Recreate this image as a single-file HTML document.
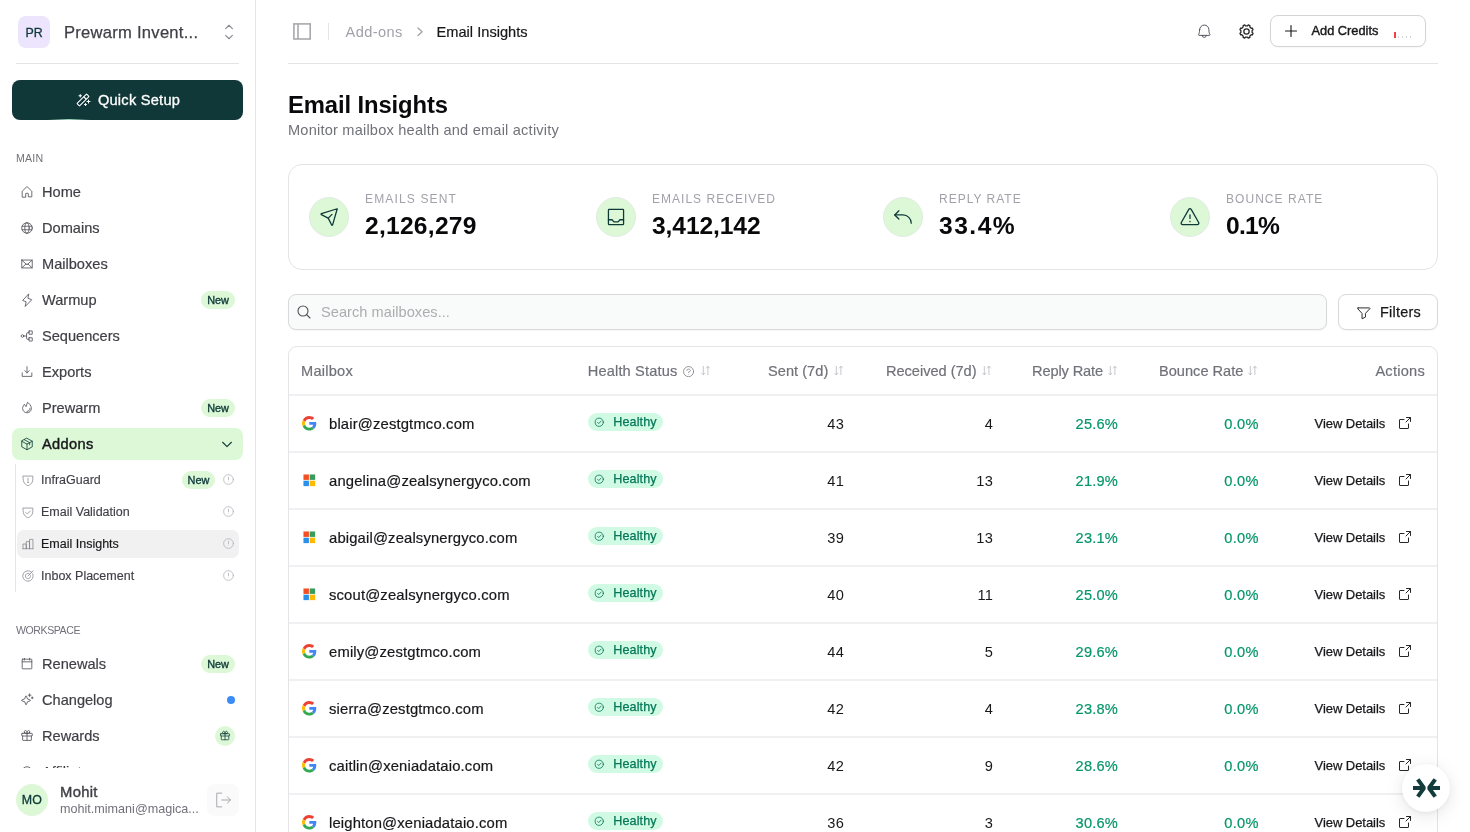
<!DOCTYPE html>
<html lang="en">
<head>
<meta charset="utf-8">
<title>Email Insights</title>
<style>
*{box-sizing:border-box;margin:0;padding:0}
html,body{width:1470px;height:832px;overflow:hidden;background:#fff}
body{font-family:"Liberation Sans",Arial,sans-serif;color:#18181b;position:relative;-webkit-font-smoothing:antialiased}
svg{display:block}
.ic{fill:none;stroke:currentColor;stroke-width:14;stroke-linecap:round;stroke-linejoin:round}
/* ---------- sidebar ---------- */
#sb{position:absolute;left:0;top:0;width:256px;height:832px;border-right:1px solid #e4e4e7;background:#fff;overflow:hidden}
.ws-av{position:absolute;left:18px;top:16px;width:32px;height:32px;border-radius:8px;background:#ede4fd;color:#0f3a3a;font-size:12.4px;font-weight:400;text-align:center;line-height:34px;letter-spacing:0;-webkit-text-stroke:.3px}
.ws-name{-webkit-text-stroke:.25px;position:absolute;left:64px;top:23px;font-size:16.6px;line-height:20px;color:#3f3f46;white-space:nowrap;letter-spacing:.25px}
.ws-chev{position:absolute;left:220px;top:23px;width:18px;height:18px;color:#8a8a93;stroke-width:16}
.sb-div{position:absolute;left:16px;top:63px;width:223px;height:1px;background:#e4e4e7}
.qs{position:absolute;left:12px;top:80px;width:231px;height:40px;border-radius:8px;background:#113838;color:#fff;font-size:14.6px;display:flex;align-items:center;justify-content:center;gap:7px;letter-spacing:.25px;-webkit-text-stroke:.3px;overflow:hidden}
.qs:after{content:"";position:absolute;left:36px;bottom:0;width:42px;height:1.500px;background:linear-gradient(90deg,rgba(190,245,215,0),rgba(190,245,215,.85),rgba(190,245,215,0))}
.qs svg{width:16px;height:16px;stroke-width:17}
.sec{position:absolute;left:16px;font-size:10.6px;color:#71717a;letter-spacing:.2px;line-height:12px}
.nav{position:absolute;left:12px;width:231px;height:32px;border-radius:8px;display:flex;align-items:center;color:#3f3f46;font-size:14.6px;letter-spacing:0;-webkit-text-stroke:.2px}
.nav .i{width:14px;height:14px;margin-left:8px;margin-right:8px;color:#4e4e58;flex:none;stroke-width:15}
.nav.act{background:#dcf8d6;color:#18181b;font-weight:400;-webkit-text-stroke:.42px;letter-spacing:.38px}
.nav.act .i{color:#0f3a3a}
.badge{margin-left:auto;margin-right:8px;height:18px;border-radius:9px;background:#dcf8d6;color:#0f3a3a;font-size:10.9px;line-height:18px;padding:0 6px;letter-spacing:0;-webkit-text-stroke:.35px}
.sub{position:absolute;left:17px;width:222px;height:28px;border-radius:7px;display:flex;align-items:center;color:#3f3f46;font-size:12.5px;letter-spacing:0;line-height:14px;padding-bottom:1px;-webkit-text-stroke:.15px}
.sub .i{width:14px;height:14px;margin-left:4px;margin-right:6px;color:#7e7e87;flex:none;stroke-width:13}
.sub .info{width:13px;height:13px;margin-left:auto;margin-right:4px;color:#b0b0b8;flex:none;stroke-width:15}
.sub .badge{margin-right:0;padding:0 5.6px}
.sub .badge + .info{margin-left:7px}
.sub.act{background:#f1f1f2;color:#18181b}
.subline{position:absolute;left:15px;top:464px;width:1px;height:128px;background:#e4e4e7}
.foot{position:absolute;left:0;bottom:0;width:255px;height:64px;background:#fff}
.me-av{position:absolute;left:16px;top:16px;width:32px;height:32px;border-radius:50%;background:#dcf8d6;color:#0f3a3a;font-size:12.4px;text-align:center;line-height:33px;letter-spacing:.2px;-webkit-text-stroke:.3px}
.me-name{position:absolute;left:60px;top:15px;font-size:14.8px;line-height:18px;color:#3f3f46;letter-spacing:.3px;-webkit-text-stroke:.4px}
.me-mail{position:absolute;left:60px;top:33px;font-size:12.6px;line-height:16px;color:#71717a;letter-spacing:0;white-space:nowrap}
.lo{position:absolute;left:207px;top:16px;width:32px;height:32px;border-radius:8px;background:#fafafa;color:#a1a1aa}
.lo svg{width:20px;height:20px;margin:6px;stroke-width:12}

/* ---------- main ---------- */
#main{position:absolute;left:256px;top:0;width:1214px;height:832px;overflow:hidden}
.abs{position:absolute}
.tb-line{position:absolute;left:32px;top:63px;width:1150px;height:1px;background:#e4e4e7}
.tg{position:absolute;left:37px;top:23px;width:18px;height:17px;border:1.8px solid #a5a5ae;border-radius:1px}
.tg:after{content:"";position:absolute;left:3.4px;top:0;bottom:0;width:1.8px;background:#a5a5ae}
.tsep{position:absolute;left:72px;top:23px;width:1px;height:17px;background:#e4e4e7}
.bc{position:absolute;top:23px;font-size:14.6px;line-height:18px;white-space:nowrap;letter-spacing:.25px}
.addc{position:absolute;left:1014px;top:15px;width:156px;height:32px;border:1px solid #d4d4d8;border-radius:8px;background:#fff;box-shadow:0 1px 2px rgba(0,0,0,.04)}
h1{position:absolute;left:32px;top:90px;font-size:23.8px;line-height:30px;font-weight:700;color:#09090b;letter-spacing:-.1px;white-space:nowrap}
.subt{position:absolute;left:32px;top:121px;font-size:14.6px;line-height:18px;color:#71717a;white-space:nowrap;letter-spacing:.2px}
.card{position:absolute;left:32px;top:164px;width:1150px;height:106px;border:1px solid #e4e4e7;border-radius:14px;background:#fff}
.stat{position:absolute;top:0;height:104px}
.stat .circ{position:absolute;left:0;top:32px;width:40px;height:40px;border-radius:50%;background:#dcf8d6;border:1px solid #e2ece2;color:#0f3a3a}
.stat .circ svg{width:22px;height:22px;margin:8px;stroke-width:15}
.stat .lab{position:absolute;left:56px;top:27px;font-size:12px;line-height:14px;color:#a1a1aa;letter-spacing:1.15px;white-space:nowrap}
.stat .num{position:absolute;left:56px;top:46px;font-size:24.6px;line-height:30px;font-weight:700;color:#09090b;white-space:nowrap}
.search{position:absolute;left:32px;top:294px;width:1039px;height:36px;border:1px solid #d9d9dd;border-radius:8px;background:#f9fafa;box-shadow:0 1px 2px rgba(0,0,0,.04)}
.search svg{position:absolute;left:6.500px;top:8.500px;width:16px;height:16px;color:#52525b;stroke-width:18}
.search span{position:absolute;left:32px;top:8px;font-size:14.6px;line-height:18px;color:#adadb1;letter-spacing:.04px;white-space:nowrap}
.filt{position:absolute;left:1082px;top:294px;width:100px;height:36px;border:1px solid #d9d9dd;border-radius:8px;background:#fff;box-shadow:0 1px 2px rgba(0,0,0,.04)}
.filt svg{position:absolute;left:17px;top:9.500px;width:15.500px;height:15.500px;color:#27272a;stroke-width:16}
.filt span{position:absolute;left:41px;top:8px;font-size:14.4px;line-height:18px;color:#18181b;letter-spacing:.25px;-webkit-text-stroke:.25px}
.tbl{position:absolute;left:32px;top:346px;width:1150px;height:520px;border:1px solid #e4e4e7;border-radius:9px;background:#fff;overflow:hidden}
.th{position:absolute;top:15px;font-size:14.6px;line-height:18px;color:#71717a;white-space:nowrap;letter-spacing:.25px;-webkit-text-stroke:.2px}
.srt{position:absolute;top:19.300px;width:9.200px;height:9.200px;color:#b0b0b8;stroke-width:15}
.row{position:absolute;left:0;width:1148px;height:57px;border-top:1px solid transparent}
.row:before{content:"";position:absolute;left:0;right:0;top:-1px;height:2px;background:#f0f0f2}
.row .em{position:absolute;left:40px;top:20px;font-size:14.8px;line-height:18px;color:#18181b;white-space:nowrap;letter-spacing:.16px;-webkit-text-stroke:.2px}
.row .pv{position:absolute;left:13px;top:21px;width:14.600px;height:14.600px}
.row .hl{position:absolute;left:298.800px;top:18.300px;width:75.600px;height:18px;border-radius:9px;background:#d1fae5;color:#047857;font-size:12.6px;line-height:18px;letter-spacing:.1px;-webkit-text-stroke:.25px}
.row .hl svg{position:absolute;left:6.500px;top:3.800px;width:10.500px;height:10.500px}
.row .hl span{position:absolute;left:25.500px;top:0}
.row .n{position:absolute;top:20px;font-size:14.6px;line-height:18px;text-align:right;white-space:nowrap;color:#18181b;letter-spacing:.2px}
.row .g{color:#059669;-webkit-text-stroke:.2px}
.row .vd{position:absolute;left:1025.500px;top:20px;font-size:13px;line-height:18px;color:#18181b;white-space:nowrap;letter-spacing:-.05px;-webkit-text-stroke:.25px}
.row .ex{position:absolute;left:1108px;top:20.400px;width:16px;height:16px;color:#27272a;stroke-width:16}
.fab{position:absolute;left:1146px;top:764px;width:48px;height:48px;border-radius:50%;background:#fff;box-shadow:0 4px 18px rgba(0,0,0,.10),0 1px 4px rgba(0,0,0,.05);color:#143c3c}
</style>
</head>
<body>
<aside id="sb">
  <div class="ws-av">PR</div>
  <div class="ws-name">Prewarm Invent...</div>
  <svg class="ws-chev ic" viewBox="0 0 256 256"><path d="M80 176l48 48 48-48M80 80l48-48 48 48"/></svg>
  <div class="sb-div"></div>
  <div class="qs"><svg class="ic" viewBox="0 0 256 256"><path d="M216 128v48M192 152h48M84 40v40M64 60h40M168 184v32M152 200h32"/><rect x="100" y="20" width="56" height="216" rx="8" transform="rotate(45 128 128)"/><path d="M144 80l32 32"/></svg><span>Quick Setup</span></div>

  <div class="sec" style="top:152px">MAIN</div>
  <div class="nav" style="top:176px"><svg class="i ic" viewBox="0 0 256 256"><path d="M40 216V115.5a8 8 0 0 1 2.600-5.900l80-75.500a8 8 0 0 1 10.800 0l80 75.500a8 8 0 0 1 2.600 5.900V216h-64v-56a8 8 0 0 0-8-8h-32a8 8 0 0 0-8 8v56z"/></svg>Home</div>
  <div class="nav" style="top:212px"><svg class="i ic" viewBox="0 0 256 256"><circle cx="128" cy="128" r="96"/><ellipse cx="128" cy="128" rx="40" ry="96"/><path d="M38 96h180M38 160h180"/></svg>Domains</div>
  <div class="nav" style="top:248px"><svg class="i ic" viewBox="0 0 256 256"><rect x="32" y="56" width="192" height="144" rx="4"/><path d="M224 56l-96 88-96-88M110 128l-76 70M222 198l-76-70"/></svg>Mailboxes</div>
  <div class="nav" style="top:284px"><svg class="i ic" viewBox="0 0 256 256"><path d="M96 240l16-80-64-24L160 16l-16 80 64 24z"/></svg>Warmup<span class="badge">New</span></div>
  <div class="nav" style="top:320px"><svg class="i ic" viewBox="0 0 256 256"><circle cx="44" cy="128" r="24"/><rect x="164" y="36" width="60" height="60" rx="2"/><rect x="164" y="160" width="60" height="60" rx="2"/><path d="M68 128h52M164 66h-20a24 24 0 0 0-24 24v76a24 24 0 0 0 24 24h20"/></svg>Sequencers</div>
  <div class="nav" style="top:356px"><svg class="i ic" viewBox="0 0 256 256"><path d="M128 144V32M216 144v64H40v-64M88 104l40 40 40-40"/></svg>Exports</div>
  <div class="nav" style="top:392px"><svg class="i ic" viewBox="0 0 256 256"><path d="M112 96l26-72c20 12 70 56 70 112a80 80 0 0 1-160 0c0-30 14-54 28-70z"/><path d="M184 136c0 30-26 50-56 56"/></svg>Prewarm<span class="badge">New</span></div>
  <div class="nav act" style="top:428px"><svg class="i ic" viewBox="0 0 256 256"><path d="M128 24l96 52v104l-96 52-96-52V76z"/><path d="M32 78l96 52 96-52M128 130v102M80 50l96 52v40"/></svg>Addons<svg class="ic" style="margin-left:auto;margin-right:9px;width:14px;height:14px;color:#0f3a3a;stroke-width:20" viewBox="0 0 256 256"><path d="M208 96l-80 80-80-80"/></svg></div>

  <div class="subline"></div>
  <div class="sub" style="top:466px"><svg class="i ic" viewBox="0 0 256 256"><path d="M40 56h176v58c0 84-70 112-88 118-18-6-88-34-88-118z"/><path d="M128 96v40"/><circle cx="128" cy="168" r="6" fill="currentColor"/></svg>InfraGuard<span class="badge">New</span><svg class="info ic" viewBox="0 0 256 256"><circle cx="128" cy="128" r="96"/><path d="M128 80v56"/><circle cx="128" cy="172" r="7" fill="currentColor" stroke="none"/></svg></div>
  <div class="sub" style="top:498px"><svg class="i ic" viewBox="0 0 256 256"><path d="M40 56h176v58c0 84-70 112-88 118-18-6-88-34-88-118z"/><path d="M88 136l28 28 56-56"/></svg>Email Validation<svg class="info ic" viewBox="0 0 256 256"><circle cx="128" cy="128" r="96"/><path d="M128 80v56"/><circle cx="128" cy="172" r="7" fill="currentColor" stroke="none"/></svg></div>
  <div class="sub act" style="top:530px"><svg class="i ic" viewBox="0 0 256 256"><path d="M36 214V128h60v86M96 214V84h60v130M156 214V44h62v170M36 214h182"/></svg>Email Insights<svg class="info ic" viewBox="0 0 256 256"><circle cx="128" cy="128" r="96"/><path d="M128 80v56"/><circle cx="128" cy="172" r="7" fill="currentColor" stroke="none"/></svg></div>
  <div class="sub" style="top:562px"><svg class="i ic" viewBox="0 0 256 256"><path d="M128 128l96-96M196 60a96 96 0 1 0 20 30M162 94a48 48 0 1 0 14 28"/></svg>Inbox Placement<svg class="info ic" viewBox="0 0 256 256"><circle cx="128" cy="128" r="96"/><path d="M128 80v56"/><circle cx="128" cy="172" r="7" fill="currentColor" stroke="none"/></svg></div>

  <div class="sec" style="top:624px;letter-spacing:-.45px">WORKSPACE</div>
  <div class="nav" style="top:648px"><svg class="i ic" viewBox="0 0 256 256"><rect x="40" y="40" width="176" height="176" rx="8"/><path d="M176 24v32M80 24v32M40 88h176"/></svg>Renewals<span class="badge">New</span></div>
  <div class="nav" style="top:684px"><svg class="i ic" viewBox="0 0 256 256"><path d="M84 160l-50-18a8 8 0 0 1 0-15l50-19 19-50a8 8 0 0 1 15 0l18 50 50 19a8 8 0 0 1 0 15l-50 18-18 50a8 8 0 0 1-15 0z"/><path d="M176 16v48M200 40h-48M224 72v32M240 88h-32"/></svg>Changelog<span style="margin-left:auto;margin-right:8px;width:8px;height:8px;border-radius:50%;background:#3b8cf6"></span></div>
  <div class="nav" style="top:720px"><svg class="i ic" viewBox="0 0 256 256"><rect x="32" y="80" width="192" height="48" rx="8"/><path d="M208 128v72a8 8 0 0 1-8 8H56a8 8 0 0 1-8-8v-72M128 80v128M173 69c-11 11-45 11-45 11s0-34 11-45a24 24 0 0 1 34 34zM83 69c11 11 45 11 45 11s0-34-11-45a24 24 0 0 0-34 34z"/></svg>Rewards<span style="margin-left:auto;margin-right:8px;width:20px;height:20px;border-radius:50%;background:#dcf8d6;color:#0f3a3a;display:flex;align-items:center;justify-content:center"><svg class="ic" style="width:12px;height:12px;stroke-width:16;margin:-1px 1px 0 0" viewBox="0 0 256 256"><rect x="32" y="80" width="192" height="48" rx="8"/><path d="M208 128v72a8 8 0 0 1-8 8H56a8 8 0 0 1-8-8v-72M128 80v128M173 69c-11 11-45 11-45 11s0-34 11-45a24 24 0 0 1 34 34zM83 69c11 11 45 11 45 11s0-34-11-45a24 24 0 0 0-34 34z"/></svg></span></div>
  <div class="nav" style="top:756px"><svg class="i ic" viewBox="0 0 256 256"><circle cx="128" cy="128" r="96"/></svg>Affiliates</div>

  <div class="foot">
    <div class="me-av">MO</div>
    <div class="me-name">Mohit</div>
    <div class="me-mail">mohit.mimani@magica...</div>
    <div class="lo"><svg class="ic" viewBox="0 0 256 256"><path d="M112 40H48v176h64M112 128h112M184 88l40 40-40 40"/></svg></div>
  </div>
</aside>
<main id="main">
  <svg class="abs" style="left:36px;top:22px;width:20px;height:19px" viewBox="0 0 20 19" fill="none" stroke="#a8a8ae" stroke-width="1.600"><rect x="1.900" y="1.900" width="16.300" height="15.100"/><path d="M6 1.900V17"/></svg><div class="tsep"></div>
  <div class="bc" style="left:89.500px;color:#a1a1aa;letter-spacing:.4px">Add-ons</div>
  <svg class="abs" style="left:161.250px;top:26.850px;width:8px;height:11px" viewBox="0 0 8 11" fill="none" stroke="#a1a1aa" stroke-width="1.300" stroke-linecap="round" stroke-linejoin="round"><path d="M1 1L5.100 4.800L1 8.600"/></svg>
  <div class="bc" style="left:180.500px;color:#18181b;letter-spacing:.02px;-webkit-text-stroke:.2px">Email Insights</div>
  <svg class="abs ic" style="left:940px;top:23px;width:16.500px;height:16.500px;color:#52525b;stroke-width:15" viewBox="0 0 256 256"><path d="M96 192a32 32 0 0 0 64 0M56 104a72 72 0 0 1 144 0c0 36 8 64 16 76a8 8 0 0 1-7 12H47a8 8 0 0 1-7-12c8-12 16-40 16-76z"/></svg>
  <svg class="abs ic" style="left:981.500px;top:23px;width:17px;height:17px;color:#27272a;stroke-width:19;stroke-linejoin:round" viewBox="0 0 256 256"><circle cx="128" cy="128" r="40"/><path d="M212.6 143.5 L226.6 154.1 L216.2 179.2 L198.7 176.9 L176.9 198.7 L179.2 216.2 L154.1 226.6 L143.5 212.6 L112.5 212.6 L101.9 226.6 L76.8 216.2 L79.1 198.7 L57.3 176.9 L39.8 179.2 L29.4 154.1 L43.4 143.5 L43.4 112.5 L29.4 101.9 L39.8 76.8 L57.3 79.1 L79.1 57.3 L76.8 39.8 L101.9 29.4 L112.5 43.4 L143.5 43.4 L154.1 29.4 L179.2 39.8 L176.9 57.3 L198.7 79.1 L216.2 76.8 L226.6 101.9 L212.6 112.5Z"/></svg>
  <div class="addc"><svg class="abs ic" style="left:12px;top:7px;width:16px;height:16px;color:#18181b;stroke-width:18" viewBox="0 0 256 256"><path d="M40 128h176M128 40v176"/></svg><span class="abs" style="left:40.500px;top:6px;font-size:12.8px;line-height:18px;color:#18181b;white-space:nowrap;letter-spacing:0;font-weight:400;-webkit-text-stroke:.4px">Add Credits</span><span class="abs" style="left:123px;top:16px;width:2px;height:6px;background:#ef4444"></span><span class="abs" style="left:127px;top:20px;width:1px;height:2px;background:#d4d4d8;box-shadow:4px 0 0 #d4d4d8,8px 0 0 #d4d4d8,12px 0 0 #d4d4d8"></span></div>
  <div class="tb-line"></div>
  <h1>Email Insights</h1>
  <div class="subt">Monitor mailbox health and email activity</div>
  <div class="card">
    <div class="stat" style="left:20px"><div class="circ"><svg class="ic" viewBox="0 0 256 256"><path d="M224 32L40 90a6 6 0 0 0-1 11l80 40 40 80a6 6 0 0 0 11-1z"/><path d="M119 141l44-44"/></svg></div><div class="lab">EMAILS SENT</div><div class="num" style="letter-spacing:.25px">2,126,279</div></div>
    <div class="stat" style="left:307px"><div class="circ"><svg class="ic" viewBox="0 0 256 256"><rect x="40" y="40" width="176" height="176" rx="8"/><path d="M40 160h42l22 24h48l22-24h42"/></svg></div><div class="lab" style="letter-spacing:1.02px">EMAILS RECEIVED</div><div class="num" style="letter-spacing:-.1px">3,412,142</div></div>
    <div class="stat" style="left:594px"><div class="circ"><svg class="ic" viewBox="0 0 256 256"><path d="M80 152l-48-48 48-48"/><path d="M224 200a96 96 0 0 0-96-96H32"/></svg></div><div class="lab" style="letter-spacing:1px">REPLY RATE</div><div class="num" style="letter-spacing:1.5px">33.4%</div></div>
    <div class="stat" style="left:881px"><div class="circ"><svg class="ic" viewBox="0 0 256 256"><path d="M142 40l87 152a16 16 0 0 1-14 24H41a16 16 0 0 1-14-24l87-152a16 16 0 0 1 28 0z"/><path d="M128 104v40"/><circle cx="128" cy="180" r="9" fill="currentColor" stroke="none"/></svg></div><div class="lab" style="letter-spacing:1.05px">BOUNCE RATE</div><div class="num" style="letter-spacing:-.7px">0.1%</div></div>
  </div>
  <div class="search"><svg class="ic" viewBox="0 0 256 256"><circle cx="112" cy="112" r="80"/><path d="M168 168l56 56"/></svg><span>Search mailboxes...</span></div>
  <div class="filt"><svg class="ic" viewBox="0 0 256 256"><path d="M34 48h188a8 8 0 0 1 6 13l-72 78v61l-56 28v-89L28 61a8 8 0 0 1 6-13z"/></svg><span>Filters</span></div>
  <div class="tbl">
    <div class="th" style="left:12px">Mailbox</div>
    <div class="th" style="left:298.700px;letter-spacing:.17px">Health Status</div>
    <svg class="abs ic" style="left:393.900px;top:18.900px;width:11.200px;height:11.200px;color:#85858e;stroke-width:16" viewBox="22 22 212 212"><circle cx="128" cy="128" r="96"/><path d="M128 144v-8c18 0 32-12 32-28s-14-28-32-28-32 12-32 28"/><circle cx="128" cy="180" r="8" fill="currentColor" stroke="none"/></svg>
    <svg class="srt ic" style="left:411.8px" viewBox="32 32 192 192"><path d="M80 40v176M46 182l34 34 34-34M176 216V40M142 74l34-34 34 34"/></svg>
    <div class="th" style="left:479px;letter-spacing:.03px">Sent (7d)</div><svg class="srt ic" style="left:545.1px" viewBox="32 32 192 192"><path d="M80 40v176M46 182l34 34 34-34M176 216V40M142 74l34-34 34 34"/></svg>
    <div class="th" style="left:597px;letter-spacing:-.03px">Received (7d)</div><svg class="srt ic" style="left:693.4px" viewBox="32 32 192 192"><path d="M80 40v176M46 182l34 34 34-34M176 216V40M142 74l34-34 34 34"/></svg>
    <div class="th" style="left:743px;letter-spacing:-.12px">Reply Rate</div><svg class="srt ic" style="left:818.7px" viewBox="32 32 192 192"><path d="M80 40v176M46 182l34 34 34-34M176 216V40M142 74l34-34 34 34"/></svg>
    <div class="th" style="left:870px;letter-spacing:0">Bounce Rate</div><svg class="srt ic" style="left:959.4px" viewBox="32 32 192 192"><path d="M80 40v176M46 182l34 34 34-34M176 216V40M142 74l34-34 34 34"/></svg>
    <div class="th" style="right:12px">Actions</div>
    <div class="row" style="top:47px"><svg class="pv" viewBox="0 0 48 48"><path fill="#EA4335" d="M24 9.500c3.540 0 6.710 1.220 9.210 3.600l6.850-6.850C35.900 2.380 30.470 0 24 0 14.620 0 6.510 5.380 2.560 13.220l7.980 6.190C12.430 13.720 17.740 9.500 24 9.500z"/><path fill="#4285F4" d="M46.980 24.550c0-1.570-.150-3.090-.380-4.550H24v9.020h12.940c-.580 2.960-2.260 5.480-4.780 7.180l7.730 6c4.510-4.180 7.090-10.360 7.090-17.650z"/><path fill="#FBBC05" d="M10.530 28.590c-.480-1.450-.760-2.990-.760-4.590s.270-3.140.760-4.590l-7.980-6.190C.920 16.460 0 20.120 0 24c0 3.880.920 7.540 2.560 10.780l7.970-6.190z"/><path fill="#34A853" d="M24 48c6.480 0 11.930-2.130 15.890-5.810l-7.730-6c-2.150 1.450-4.920 2.300-8.160 2.300-6.260 0-11.570-4.220-13.470-9.910l-7.980 6.190C6.510 42.620 14.620 48 24 48z"/></svg><div class="em">blair@zestgtmco.com</div><div class="hl"><svg class="ic" style="stroke-width:20" viewBox="0 0 256 256"><circle cx="128" cy="128" r="100"/><path d="M88 132l28 28 56-60"/></svg><span>Healthy</span></div><div class="n" style="right:593px">43</div><div class="n" style="right:444px">4</div><div class="n g" style="right:319px">25.6%</div><div class="n g" style="right:178px;letter-spacing:.4px">0.0%</div><div class="vd">View Details</div><svg class="ex ic" viewBox="0 0 256 256"><path d="M216 104V40h-64M144 112l72-72M184 144v64a8 8 0 0 1-8 8H48a8 8 0 0 1-8-8V80a8 8 0 0 1 8-8h64"/></svg></div>
<div class="row" style="top:104px"><svg class="pv" viewBox="0 0 15 15"><rect x="1.500" y="1.500" width="5.600" height="5.600" fill="#f25022"/><rect x="7.900" y="1.500" width="5.600" height="5.600" fill="#3a9b5c"/><rect x="1.500" y="7.900" width="5.600" height="5.600" fill="#2a8fe8"/><rect x="7.900" y="7.900" width="5.600" height="5.600" fill="#ffb900"/></svg><div class="em">angelina@zealsynergyco.com</div><div class="hl"><svg class="ic" style="stroke-width:20" viewBox="0 0 256 256"><circle cx="128" cy="128" r="100"/><path d="M88 132l28 28 56-60"/></svg><span>Healthy</span></div><div class="n" style="right:593px">41</div><div class="n" style="right:444px">13</div><div class="n g" style="right:319px">21.9%</div><div class="n g" style="right:178px;letter-spacing:.4px">0.0%</div><div class="vd">View Details</div><svg class="ex ic" viewBox="0 0 256 256"><path d="M216 104V40h-64M144 112l72-72M184 144v64a8 8 0 0 1-8 8H48a8 8 0 0 1-8-8V80a8 8 0 0 1 8-8h64"/></svg></div>
<div class="row" style="top:161px"><svg class="pv" viewBox="0 0 15 15"><rect x="1.500" y="1.500" width="5.600" height="5.600" fill="#f25022"/><rect x="7.900" y="1.500" width="5.600" height="5.600" fill="#3a9b5c"/><rect x="1.500" y="7.900" width="5.600" height="5.600" fill="#2a8fe8"/><rect x="7.900" y="7.900" width="5.600" height="5.600" fill="#ffb900"/></svg><div class="em">abigail@zealsynergyco.com</div><div class="hl"><svg class="ic" style="stroke-width:20" viewBox="0 0 256 256"><circle cx="128" cy="128" r="100"/><path d="M88 132l28 28 56-60"/></svg><span>Healthy</span></div><div class="n" style="right:593px">39</div><div class="n" style="right:444px">13</div><div class="n g" style="right:319px">23.1%</div><div class="n g" style="right:178px;letter-spacing:.4px">0.0%</div><div class="vd">View Details</div><svg class="ex ic" viewBox="0 0 256 256"><path d="M216 104V40h-64M144 112l72-72M184 144v64a8 8 0 0 1-8 8H48a8 8 0 0 1-8-8V80a8 8 0 0 1 8-8h64"/></svg></div>
<div class="row" style="top:218px"><svg class="pv" viewBox="0 0 15 15"><rect x="1.500" y="1.500" width="5.600" height="5.600" fill="#f25022"/><rect x="7.900" y="1.500" width="5.600" height="5.600" fill="#3a9b5c"/><rect x="1.500" y="7.900" width="5.600" height="5.600" fill="#2a8fe8"/><rect x="7.900" y="7.900" width="5.600" height="5.600" fill="#ffb900"/></svg><div class="em">scout@zealsynergyco.com</div><div class="hl"><svg class="ic" style="stroke-width:20" viewBox="0 0 256 256"><circle cx="128" cy="128" r="100"/><path d="M88 132l28 28 56-60"/></svg><span>Healthy</span></div><div class="n" style="right:593px">40</div><div class="n" style="right:444px">11</div><div class="n g" style="right:319px">25.0%</div><div class="n g" style="right:178px;letter-spacing:.4px">0.0%</div><div class="vd">View Details</div><svg class="ex ic" viewBox="0 0 256 256"><path d="M216 104V40h-64M144 112l72-72M184 144v64a8 8 0 0 1-8 8H48a8 8 0 0 1-8-8V80a8 8 0 0 1 8-8h64"/></svg></div>
<div class="row" style="top:275px"><svg class="pv" viewBox="0 0 48 48"><path fill="#EA4335" d="M24 9.500c3.540 0 6.710 1.220 9.210 3.600l6.850-6.850C35.900 2.380 30.470 0 24 0 14.620 0 6.510 5.380 2.560 13.220l7.980 6.190C12.430 13.720 17.740 9.500 24 9.500z"/><path fill="#4285F4" d="M46.980 24.550c0-1.570-.150-3.090-.380-4.550H24v9.020h12.940c-.580 2.960-2.260 5.480-4.780 7.180l7.730 6c4.510-4.180 7.090-10.360 7.090-17.650z"/><path fill="#FBBC05" d="M10.530 28.590c-.480-1.450-.760-2.990-.760-4.590s.270-3.140.760-4.590l-7.980-6.190C.920 16.460 0 20.120 0 24c0 3.880.920 7.540 2.560 10.780l7.970-6.190z"/><path fill="#34A853" d="M24 48c6.480 0 11.930-2.130 15.890-5.810l-7.730-6c-2.150 1.450-4.920 2.300-8.160 2.300-6.260 0-11.570-4.220-13.470-9.910l-7.980 6.190C6.510 42.620 14.620 48 24 48z"/></svg><div class="em">emily@zestgtmco.com</div><div class="hl"><svg class="ic" style="stroke-width:20" viewBox="0 0 256 256"><circle cx="128" cy="128" r="100"/><path d="M88 132l28 28 56-60"/></svg><span>Healthy</span></div><div class="n" style="right:593px">44</div><div class="n" style="right:444px">5</div><div class="n g" style="right:319px">29.6%</div><div class="n g" style="right:178px;letter-spacing:.4px">0.0%</div><div class="vd">View Details</div><svg class="ex ic" viewBox="0 0 256 256"><path d="M216 104V40h-64M144 112l72-72M184 144v64a8 8 0 0 1-8 8H48a8 8 0 0 1-8-8V80a8 8 0 0 1 8-8h64"/></svg></div>
<div class="row" style="top:332px"><svg class="pv" viewBox="0 0 48 48"><path fill="#EA4335" d="M24 9.500c3.540 0 6.710 1.220 9.210 3.600l6.850-6.850C35.900 2.380 30.470 0 24 0 14.620 0 6.510 5.380 2.560 13.220l7.980 6.190C12.430 13.720 17.740 9.500 24 9.500z"/><path fill="#4285F4" d="M46.980 24.550c0-1.570-.150-3.090-.380-4.550H24v9.020h12.940c-.580 2.960-2.260 5.480-4.780 7.180l7.730 6c4.510-4.180 7.090-10.360 7.090-17.650z"/><path fill="#FBBC05" d="M10.530 28.590c-.480-1.450-.760-2.990-.760-4.590s.270-3.140.760-4.590l-7.980-6.190C.920 16.460 0 20.120 0 24c0 3.880.920 7.540 2.560 10.780l7.970-6.190z"/><path fill="#34A853" d="M24 48c6.480 0 11.930-2.130 15.890-5.810l-7.730-6c-2.150 1.450-4.920 2.300-8.160 2.300-6.260 0-11.570-4.220-13.470-9.910l-7.980 6.190C6.510 42.620 14.620 48 24 48z"/></svg><div class="em">sierra@zestgtmco.com</div><div class="hl"><svg class="ic" style="stroke-width:20" viewBox="0 0 256 256"><circle cx="128" cy="128" r="100"/><path d="M88 132l28 28 56-60"/></svg><span>Healthy</span></div><div class="n" style="right:593px">42</div><div class="n" style="right:444px">4</div><div class="n g" style="right:319px">23.8%</div><div class="n g" style="right:178px;letter-spacing:.4px">0.0%</div><div class="vd">View Details</div><svg class="ex ic" viewBox="0 0 256 256"><path d="M216 104V40h-64M144 112l72-72M184 144v64a8 8 0 0 1-8 8H48a8 8 0 0 1-8-8V80a8 8 0 0 1 8-8h64"/></svg></div>
<div class="row" style="top:389px"><svg class="pv" viewBox="0 0 48 48"><path fill="#EA4335" d="M24 9.500c3.540 0 6.710 1.220 9.210 3.600l6.850-6.850C35.900 2.380 30.470 0 24 0 14.620 0 6.510 5.380 2.560 13.220l7.980 6.190C12.430 13.720 17.740 9.500 24 9.500z"/><path fill="#4285F4" d="M46.980 24.550c0-1.570-.150-3.090-.380-4.550H24v9.020h12.940c-.580 2.960-2.260 5.480-4.780 7.180l7.730 6c4.510-4.180 7.090-10.360 7.090-17.650z"/><path fill="#FBBC05" d="M10.530 28.590c-.480-1.450-.760-2.990-.760-4.590s.270-3.140.760-4.590l-7.980-6.190C.920 16.460 0 20.120 0 24c0 3.880.920 7.540 2.560 10.780l7.970-6.190z"/><path fill="#34A853" d="M24 48c6.480 0 11.930-2.130 15.890-5.810l-7.730-6c-2.150 1.450-4.920 2.300-8.160 2.300-6.260 0-11.570-4.220-13.470-9.910l-7.980 6.190C6.510 42.620 14.620 48 24 48z"/></svg><div class="em">caitlin@xeniadataio.com</div><div class="hl"><svg class="ic" style="stroke-width:20" viewBox="0 0 256 256"><circle cx="128" cy="128" r="100"/><path d="M88 132l28 28 56-60"/></svg><span>Healthy</span></div><div class="n" style="right:593px">42</div><div class="n" style="right:444px">9</div><div class="n g" style="right:319px">28.6%</div><div class="n g" style="right:178px;letter-spacing:.4px">0.0%</div><div class="vd">View Details</div><svg class="ex ic" viewBox="0 0 256 256"><path d="M216 104V40h-64M144 112l72-72M184 144v64a8 8 0 0 1-8 8H48a8 8 0 0 1-8-8V80a8 8 0 0 1 8-8h64"/></svg></div>
<div class="row" style="top:446px"><svg class="pv" viewBox="0 0 48 48"><path fill="#EA4335" d="M24 9.500c3.540 0 6.710 1.220 9.210 3.600l6.850-6.850C35.900 2.380 30.470 0 24 0 14.620 0 6.510 5.380 2.560 13.220l7.980 6.190C12.430 13.720 17.740 9.500 24 9.500z"/><path fill="#4285F4" d="M46.980 24.550c0-1.570-.150-3.090-.380-4.550H24v9.020h12.940c-.580 2.960-2.260 5.480-4.780 7.180l7.730 6c4.510-4.180 7.090-10.360 7.090-17.650z"/><path fill="#FBBC05" d="M10.530 28.590c-.480-1.450-.760-2.990-.760-4.590s.270-3.140.760-4.590l-7.980-6.190C.920 16.460 0 20.120 0 24c0 3.880.920 7.540 2.560 10.780l7.970-6.190z"/><path fill="#34A853" d="M24 48c6.480 0 11.930-2.130 15.890-5.810l-7.730-6c-2.150 1.450-4.920 2.300-8.160 2.300-6.260 0-11.570-4.220-13.470-9.910l-7.980 6.190C6.510 42.620 14.620 48 24 48z"/></svg><div class="em">leighton@xeniadataio.com</div><div class="hl"><svg class="ic" style="stroke-width:20" viewBox="0 0 256 256"><circle cx="128" cy="128" r="100"/><path d="M88 132l28 28 56-60"/></svg><span>Healthy</span></div><div class="n" style="right:593px">36</div><div class="n" style="right:444px">3</div><div class="n g" style="right:319px">30.6%</div><div class="n g" style="right:178px;letter-spacing:.4px">0.0%</div><div class="vd">View Details</div><svg class="ex ic" viewBox="0 0 256 256"><path d="M216 104V40h-64M144 112l72-72M184 144v64a8 8 0 0 1-8 8H48a8 8 0 0 1-8-8V80a8 8 0 0 1 8-8h64"/></svg></div>

  </div>
  <div class="fab"><svg class="abs" style="left:10.600px;top:14.200px;width:27px;height:20px" viewBox="0 0 27 20" fill="none" stroke="currentColor" stroke-width="4" stroke-linecap="butt" stroke-linejoin="bevel"><path d="M4.800 1.300L11 10L4.800 18.700M0 10H10M22.200 1.300L16 10L22.200 18.700M27 10H17"/></svg></div>
</main>
</body>
</html>
